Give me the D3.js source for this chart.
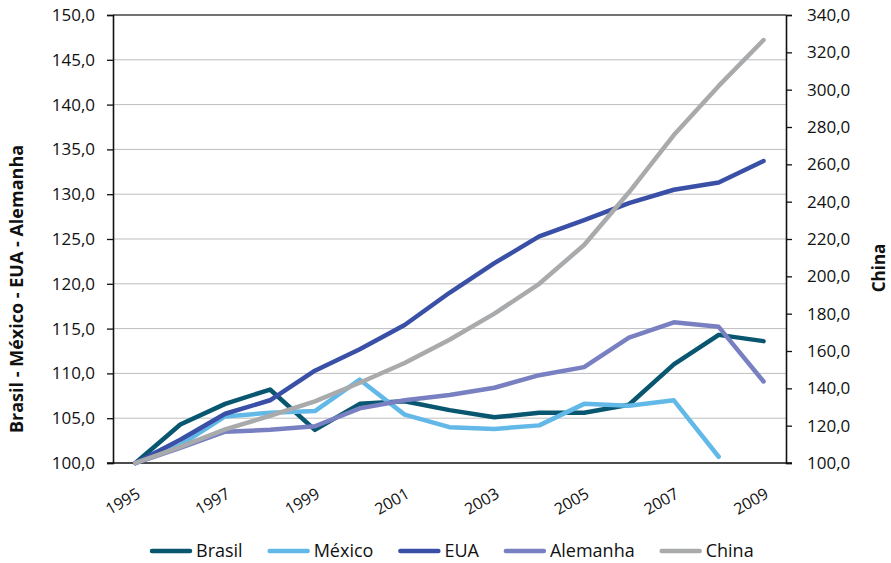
<!DOCTYPE html>
<html>
<head>
<meta charset="utf-8">
<script src="https://cdn.jsdelivr.net/npm/d3@7"></script>
<style>
  body { margin: 0; background: #fff; }
  svg text { font-family: "Open Sans", "Noto Sans", sans-serif; fill: #111; }
</style>
</head>
<body>
<div id="chart"></div>
<script>
const years = d3.range(1995, 2010);
const yearLabels = ["1995", "1997", "1999", "2001", "2003", "2005", "2007", "2009"];

const brasil   = [100, 104.3, 106.6, 108.2, 103.7, 106.6, 106.9, 105.9, 105.1, 105.6, 105.6, 106.5, 111.0, 114.3, 113.6];
const mexico   = [100, 102.0, 105.2, 105.6, 105.8, 109.3, 105.4, 104.0, 103.8, 104.2, 106.6, 106.4, 107.0, 100.7, null];
const eua      = [100, 102.6, 105.5, 107.0, 110.3, 112.7, 115.4, 119.0, 122.3, 125.3, 127.1, 129.0, 130.5, 131.3, 133.7];
const alemanha = [100, 101.7, 103.5, 103.7, 104.1, 106.1, 107.0, 107.6, 108.4, 109.8, 110.7, 114.0, 115.7, 115.2, 109.1];
const china    = [100, 108.6, 118.0, 125.3, 133.0, 143.0, 153.6, 166.0, 180.0, 196.0, 216.8, 245.0, 275.7, 302.0, 326.6];

const leftTicks = [100, 105, 110, 115, 120, 125, 130, 135, 140, 145, 150];
const rightTicks = [100, 120, 140, 160, 180, 200, 220, 240, 260, 280, 300, 320, 340];

const series = [
    { name: "Brasil",   values: brasil,   color: "#08566f", axis: "left" },
    { name: "México",   values: mexico,   color: "#62b9e8", axis: "left" },
    { name: "EUA",      values: eua,      color: "#3a4fa6", axis: "left" },
    { name: "Alemanha", values: alemanha, color: "#7880c2", axis: "left" },
    { name: "China",    values: china,    color: "#a9aaac", axis: "right" }
];

const width = 891, height = 563;
const margin = { top: 15, right: 105, bottom: 100, left: 113 };

const svg = d3.select("#chart").append("svg")
    .attr("width", width)
    .attr("height", height);

const x = d3.scalePoint()
    .domain(years)
    .range([margin.left, width - margin.right])
    .padding(0.5);

const yLeft = d3.scaleLinear()
    .domain([100, 150])
    .range([height - margin.bottom, margin.top]);

const yRight = d3.scaleLinear()
    .domain([100, 340])
    .range([height - margin.bottom, margin.top]);

const fmt = d => d3.format(".1f")(d).replace(".", ",");

// grid
svg.append("g")
    .selectAll("line")
    .data(leftTicks.slice(1))
    .enter().append("line")
    .attr("x1", margin.left)
    .attr("x2", width - margin.right)
    .attr("y1", d => yLeft(d))
    .attr("y2", d => yLeft(d))
    .attr("stroke", d => d === 150 ? "#444" : "#bdbdbd")
    .attr("stroke-width", d => d === 150 ? 1.3 : 1);

// left axis
let leftAxis = svg.append("g")
    .attr("transform", `translate(${margin.left},0)`)
    .call(d3.axisLeft(yLeft).tickValues(leftTicks).tickFormat(fmt).tickSize(6).tickPadding(12));
leftAxis.select(".domain").attr("stroke", "#111").attr("stroke-width", 1.6);
leftAxis.selectAll(".tick line").attr("stroke", "#111").attr("stroke-width", 1.3);
leftAxis.selectAll("text").style("font-size", "17px").attr("fill", "#111");

// right axis
let rightAxis = svg.append("g")
    .attr("transform", `translate(${width - margin.right},0)`)
    .call(d3.axisRight(yRight).tickValues(rightTicks).tickFormat(fmt).tickSize(6).tickPadding(15));
rightAxis.select(".domain").attr("stroke", "#111").attr("stroke-width", 1.6);
rightAxis.selectAll(".tick line").attr("stroke", "#111").attr("stroke-width", 1.3);
rightAxis.selectAll("text").style("font-size", "17px").attr("fill", "#111");

// bottom axis
svg.append("line")
    .attr("x1", margin.left - 6)
    .attr("x2", width - margin.right + 6)
    .attr("y1", height - margin.bottom)
    .attr("y2", height - margin.bottom)
    .attr("stroke", "#111")
    .attr("stroke-width", 1.6);

svg.append("g")
    .selectAll("text")
    .data(yearLabels)
    .enter().append("text")
    .attr("text-anchor", "end")
    .attr("transform", d => `translate(${x(+d) + 6},${height - margin.bottom + 34}) rotate(-30)`)
    .style("font-size", "16px")
    .text(d => d);

// axis titles
svg.append("text")
    .attr("transform", `translate(23,289) rotate(-90)`)
    .attr("text-anchor", "middle")
    .style("font-size", "18px")
    .style("font-weight", "bold")
    .text("Brasil - México - EUA - Alemanha");

svg.append("text")
    .attr("transform", `translate(885,268) rotate(-90)`)
    .attr("text-anchor", "middle")
    .style("font-size", "17px")
    .style("font-weight", "bold")
    .text("China");

// lines
series.forEach(s => {
    let yScale = s.axis === "left" ? yLeft : yRight;
    let line = d3.line()
        .defined(d => d != null)
        .x((d, i) => x(years[i]))
        .y(d => yScale(d));
    svg.append("path")
        .datum(s.values)
        .attr("fill", "none")
        .attr("stroke", s.color)
        .attr("stroke-width", 4.5)
        .attr("stroke-linejoin", "round")
        .attr("stroke-linecap", "round")
        .attr("d", line);
});

// legend, laid out from the text widths
const legend = svg.append("g");
let lx = 152;
series.forEach(s => {
    let item = legend.append("g").attr("transform", `translate(${lx},551)`);
    item.append("line")
        .attr("x1", 0).attr("x2", 38)
        .attr("stroke", s.color)
        .attr("stroke-width", 4.5)
        .attr("stroke-linecap", "round");
    let t = item.append("text")
        .attr("x", 44)
        .attr("dy", "0.35em")
        .style("font-size", "18px")
        .text(s.name);
    lx += 44 + t.node().getComputedTextLength() + 27;
});
</script>
</body>
</html>
